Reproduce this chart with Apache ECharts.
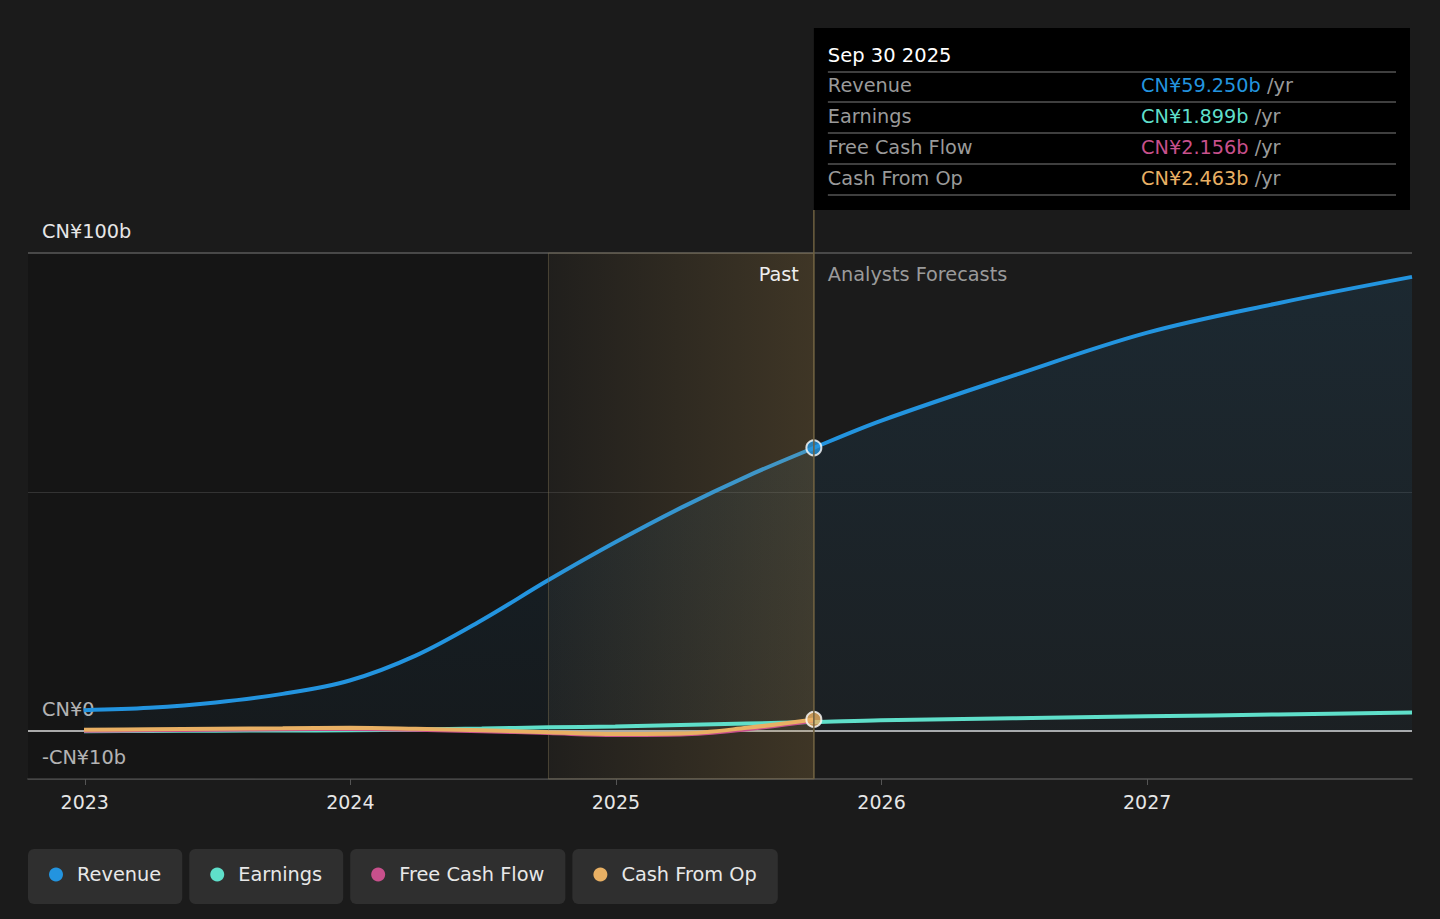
<!DOCTYPE html>
<html>
<head>
<meta charset="utf-8">
<script src="https://cdn.jsdelivr.net/npm/echarts@6/dist/echarts.min.js"></script>
<style>
html, body { margin: 0; padding: 0; background: #1b1b1b; }
#mainCanvas { width: 1440px; height: 919px; }
</style>
</head>
<body>
<div id="mainCanvas"></div>
<script>
// past quarters (CN¥ billions, trailing twelve months)
var pastDates = ['2022-12-31', '2023-03-31', '2023-06-30', '2023-09-30', '2023-12-31', '2024-03-31',
                 '2024-06-30', '2024-09-30', '2024-12-31', '2025-03-31', '2025-06-30', '2025-09-30'];
var revenuePast  = [4.4, 4.9, 6.0, 7.8, 10.6, 15.8, 23.2, 31.6, 39.5, 46.7, 53.3, 59.25];
var earningsPast = [0.0, 0.05, 0.1, 0.15, 0.2, 0.35, 0.55, 0.8, 1.0, 1.3, 1.6, 1.899];
var fcfPast      = [0.1, 0.2, 0.3, 0.4, 0.45, 0.3, 0.0, -0.4, -0.8, -0.7, 0.4, 2.156];
var cfoPast      = [0.3, 0.4, 0.5, 0.6, 0.7, 0.5, 0.2, -0.2, -0.6, -0.5, 0.7, 2.463];

// analyst forecasts
var forecastDates    = ['2025-12-31', '2026-06-30', '2026-12-31', '2027-06-30', '2027-12-31'];
var revenueForecast  = [64.9, 74.3, 83.3, 89.5, 95.0];
var earningsForecast = [2.3, 2.7, 3.1, 3.5, 3.9];

var seriesNames = ['Revenue', 'Earnings', 'Free Cash Flow', 'Cash From Op'];
var seriesColors = ['#2394df', '#5fdfca', '#c8508c', '#e8b064'];
var yearTicks = [2023, 2024, 2025, 2026, 2027];
var yTickValues = [-10, 0, 100];
var xStart = '2022-10-15';
var xEnd = '2027-12-31';
var pastStart = '2024-09-30';
var today = '2025-09-30';

// date string -> fractional year, so the x axis is a plain value axis
function fy(s) {
    var d = new Date(s + 'T00:00:00Z');
    var y = d.getUTCFullYear();
    var start = Date.UTC(y, 0, 1), end = Date.UTC(y + 1, 0, 1);
    return y + (d.getTime() - start) / (end - start);
}
function zip(d, v) {
    var out = [];
    for (var i = 0; i < d.length; i++) out.push([fy(d[i]), v[i]]);
    return out;
}

var font = 'DejaVu Sans';
var legendSize = 19.35;
var myChart = echarts.init(document.getElementById('mainCanvas'), null, { renderer: 'svg' });

var lastIdx = pastDates.length - 1;

var option = {
    backgroundColor: '#1b1b1b',
    animation: false,
    textStyle: { fontFamily: font },
    grid: { left: 28, right: 28, top: 253, bottom: 140, containLabel: false },
    legend: {
        data: seriesNames,
        left: 49,
        top: 865,
        padding: 0,
        icon: 'circle',
        itemWidth: 14,
        itemHeight: 14,
        itemGap: 49,
        selectedMode: false,
        textStyle: { color: '#e8e8e8', fontSize: legendSize, fontFamily: font, padding: [0, 0, 0, 9] }
    },
    xAxis: {
        type: 'value',
        min: fy(xStart),
        max: fy(xEnd),
        axisLine: { show: true, onZero: false, lineStyle: { color: '#555', width: 1.5 } },
        axisTick: { show: true, length: 6, lineStyle: { color: '#555' }, customValues: yearTicks },
        splitLine: { show: false },
        axisLabel: {
            customValues: yearTicks,
            color: '#e6e6e6',
            fontSize: 19,
            margin: 13,
            formatter: function (v) { return String(Math.round(v)); }
        }
    },
    yAxis: {
        type: 'value',
        min: -10,
        max: 100,
        axisLine: { show: false },
        axisTick: { show: false },
        splitLine: { show: false },
        axisLabel: {
            customValues: yTickValues,
            inside: true,
            margin: 14,
            color: '#e6e6e6',
            fontSize: 19.3,
            verticalAlign: 'bottom',
            padding: [0, 0, 12, 0],
            formatter: function (v) {
                if (v < 0) return '-CN¥' + (-v) + 'b';
                if (v === 0) return 'CN¥0';
                return 'CN¥' + v + 'b';
            }
        }
    },
    series: [
        {
            name: 'Revenue',
            type: 'line',
            data: zip(pastDates.concat(forecastDates), revenuePast.concat(revenueForecast)),
            smooth: 0.35,
            symbol: 'none',
            lineStyle: { color: seriesColors[0], width: 4 },
            itemStyle: { color: seriesColors[0] },
            areaStyle: {
                origin: 0,
                color: new echarts.graphic.LinearGradient(0, 0, 0, 1, [
                    { offset: 0, color: 'rgba(35,148,223,0.16)' },
                    { offset: 1, color: 'rgba(35,148,223,0.06)' }
                ])
            },
            markArea: {
                silent: true,
                z: 1,
                data: [
                    [{ xAxis: fy(xStart), itemStyle: { color: 'rgba(0,0,0,0.22)' } }, { xAxis: fy(pastStart) }]
                ]
            },
            markLine: {
                silent: true,
                z: 1,
                symbol: 'none',
                label: { show: false },
                data: [
                    { yAxis: 100, lineStyle: { color: '#5a5a5a', width: 1.5, type: 'solid' } },
                    { yAxis: 50, lineStyle: { color: '#333', width: 1, type: 'solid' } },
                    { yAxis: 0, lineStyle: { color: '#dcdcdc', width: 1.5, type: 'solid' } }
                ]
            },
            z: 2
        },
        {
            // carrier for the "past year" highlight band, drawn over the revenue area
            name: 'pastBand',
            type: 'line',
            data: [],
            silent: true,
            markArea: {
                silent: true,
                z: 3,
                data: [
                    [{
                        xAxis: fy(pastStart),
                        itemStyle: {
                            color: new echarts.graphic.LinearGradient(0, 0, 1, 0, [
                                { offset: 0, color: 'rgba(205,160,80,0.03)' },
                                { offset: 1, color: 'rgba(205,160,80,0.2)' }
                            ]),
                            borderColor: 'rgba(120,110,80,0.5)',
                            borderWidth: 1
                        }
                    }, { xAxis: fy(today) }]
                ]
            },
            z: 3
        },
        {
            name: 'Earnings',
            type: 'line',
            data: zip(pastDates.concat(forecastDates), earningsPast.concat(earningsForecast)),
            smooth: 0.35,
            symbol: 'none',
            lineStyle: { color: seriesColors[1], width: 4 },
            itemStyle: { color: seriesColors[1] },
            z: 4
        },
        {
            name: 'Free Cash Flow',
            type: 'line',
            data: zip(pastDates, fcfPast),
            smooth: 0.35,
            symbol: 'none',
            lineStyle: { color: seriesColors[2], width: 4 },
            itemStyle: { color: seriesColors[2] },
            z: 5
        },
        {
            name: 'Cash From Op',
            type: 'line',
            data: zip(pastDates, cfoPast),
            smooth: 0.35,
            symbol: 'none',
            lineStyle: { color: seriesColors[3], width: 4 },
            itemStyle: { color: seriesColors[3] },
            z: 6
        },
        {
            name: 'highlight',
            type: 'scatter',
            symbolSize: 15,
            silent: true,
            data: [
                { value: [fy(pastDates[lastIdx]), revenuePast[lastIdx]], itemStyle: { color: seriesColors[0] } },
                { value: [fy(pastDates[lastIdx]), cfoPast[lastIdx]], itemStyle: { color: seriesColors[3] } }
            ],
            itemStyle: { borderColor: '#fff', borderWidth: 2 },
            z: 10
        }
    ]
};

myChart.setOption(option);

// overlay: divider, Past / Forecast labels, info box, legend chips
var divX = myChart.convertToPixel({ gridIndex: 0 }, [fy(today), 0])[0];
var topY = myChart.convertToPixel({ gridIndex: 0 }, [fy(today), 100])[1];
var botY = myChart.convertToPixel({ gridIndex: 0 }, [fy(today), -10])[1];

var boxL = divX, boxT = 28, boxW = 1410 - divX, boxH = 182;
var rowVals = [revenuePast[lastIdx], earningsPast[lastIdx], fcfPast[lastIdx], cfoPast[lastIdx]];
var months = ['Jan','Feb','Mar','Apr','May','Jun','Jul','Aug','Sep','Oct','Nov','Dec'];
var td = new Date(today + 'T00:00:00Z');
var dateLabel = months[td.getUTCMonth()] + ' ' + td.getUTCDate() + ' ' + td.getUTCFullYear();

var graphics = [
    { type: 'line', shape: { x1: divX, y1: boxT + boxH, x2: divX, y2: botY },
      style: { stroke: '#6e6040', lineWidth: 1.5 }, z: 20, silent: true },
    { type: 'text', x: divX - 15, y: topY + 21,
      style: { text: 'Past', fill: '#eeeeee', fontSize: 19.3, fontFamily: font, align: 'right', verticalAlign: 'middle' }, z: 20 },
    { type: 'text', x: divX + 14, y: topY + 21,
      style: { text: 'Analysts Forecasts', fill: '#9a9a9a', fontSize: 19.3, fontFamily: font, align: 'left', verticalAlign: 'middle' }, z: 20 },
    { type: 'rect', shape: { x: boxL, y: boxT, width: boxW, height: boxH }, style: { fill: '#000' }, z: 30 },
    { type: 'text', x: boxL + 14, y: 55,
      style: { text: dateLabel, fill: '#ffffff', fontSize: 19.5, fontFamily: font, verticalAlign: 'middle' }, z: 31 }
];
var rowLineY = [72, 102, 133, 164, 195];
for (var i = 0; i < rowLineY.length; i++) {
    graphics.push({ type: 'line', shape: { x1: boxL + 14, y1: rowLineY[i], x2: 1396, y2: rowLineY[i] },
        style: { stroke: '#555', lineWidth: 1.5 }, z: 31 });
}
for (var j = 0; j < seriesNames.length; j++) {
    var cy = (rowLineY[j] + rowLineY[j + 1]) / 2 - 1.5;
    graphics.push({ type: 'text', x: boxL + 14, y: cy,
        style: { text: seriesNames[j], fill: '#9a9a9a', fontSize: 19.3, fontFamily: font, verticalAlign: 'middle' }, z: 31 });
    graphics.push({ type: 'text', x: 1141, y: cy,
        style: {
            text: '{v|CN¥' + rowVals[j].toFixed(3) + 'b}{u| /yr}',
            verticalAlign: 'middle',
            rich: {
                v: { fill: seriesColors[j], fontSize: 19.3, fontFamily: font },
                u: { fill: '#9a9a9a', fontSize: 19.3, fontFamily: font }
            }
        }, z: 31 });
}

// legend chips sized from text widths
var ctx = document.createElement('canvas').getContext('2d');
ctx.font = legendSize + 'px "DejaVu Sans"';
var dotLeft = 49;
for (var k = 0; k < seriesNames.length; k++) {
    var tw = ctx.measureText(seriesNames[k]).width;
    var textEnd = dotLeft + 14 + 14 + tw;
    graphics.push({ type: 'rect', shape: { x: dotLeft - 21, y: 849, width: textEnd + 21 - (dotLeft - 21), height: 55, r: 6 },
        style: { fill: '#2f2f2f' }, z: -1, silent: true });
    dotLeft = textEnd + 49;
}

myChart.setOption({ graphic: graphics });
</script>
</body>
</html>
